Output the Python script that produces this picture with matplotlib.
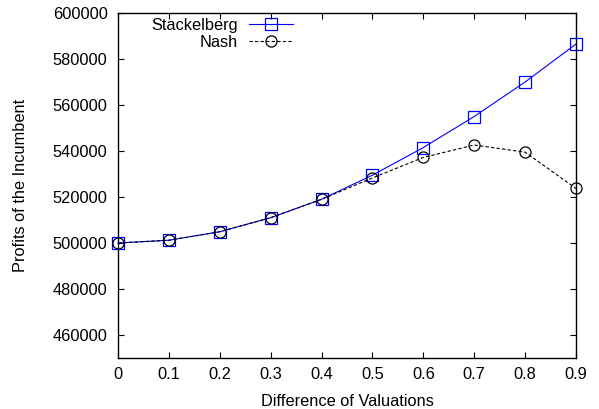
import matplotlib
matplotlib.use("Agg")
import matplotlib.pyplot as plt

x = [0.0, 0.1, 0.2, 0.3, 0.4, 0.5, 0.6, 0.7, 0.8, 0.9]
stackelberg = [500000, 501200, 504900, 511000, 519000, 529500, 541500, 555000, 570000, 586500]
nash = [500000, 501200, 504900, 511000, 519000, 528300, 537200, 542600, 539500, 523700]
xticks = [0, 0.1, 0.2, 0.3, 0.4, 0.5, 0.6, 0.7, 0.8, 0.9]
xticklabels = ["0", "0.1", "0.2", "0.3", "0.4", "0.5", "0.6", "0.7", "0.8", "0.9"]
yticks = [460000, 480000, 500000, 520000, 540000, 560000, 580000, 600000]

plt.rcParams['font.family'] = ['Liberation Sans', 'DejaVu Sans']
FS = 11.8
fig = plt.figure(figsize=(5.99, 4.09), dpi=100)
ax = fig.add_axes([118/599, 1-358/409, (576-118)/599, (358-13)/409])

ax.plot(x, stackelberg, color='#0000ff', lw=0.8, marker='s', ms=8, mfc='none',
        mec='#0000ff', mew=0.9, label='Stackelberg', clip_on=False, zorder=3)
ax.plot(x, nash, color='black', lw=0.8, ls=(0, (3, 2)), marker='o', ms=8, mfc='none',
        mec='black', mew=0.9, label='Nash', clip_on=False, zorder=4)

ax.set_xlim(0, 0.9)
ax.set_ylim(450000, 600000)
ax.set_xticks(xticks)
ax.set_xticklabels(xticklabels)
ax.set_yticks(yticks)
ax.tick_params(direction='in', top=True, right=True, length=4, width=0.8, labelsize=FS)
ax.tick_params(axis='y', pad=7.5)
ax.tick_params(axis='x', pad=6.5)
for s in ax.spines.values():
    s.set_linewidth(1.0)
ax.set_xlabel('Difference of Valuations', fontsize=FS)
ax.set_ylabel('Profits of the Incumbent', fontsize=FS)
ax.xaxis.set_label_coords(0.5, -(394-358)/345)
ax.yaxis.set_label_coords((28-118)/458, 0.5)

leg = fig.legend(*ax.get_legend_handles_labels(), loc='upper right',
                 bbox_to_anchor=(293/599, 1-18/409), frameon=False, markerfirst=False,
                 fontsize=FS, handlelength=2.7, borderpad=0, borderaxespad=0,
                 labelspacing=0.12, handletextpad=0.65)
for t in leg.get_texts():
    t.set_ha('right')

fig.savefig('out.png', dpi=100)
